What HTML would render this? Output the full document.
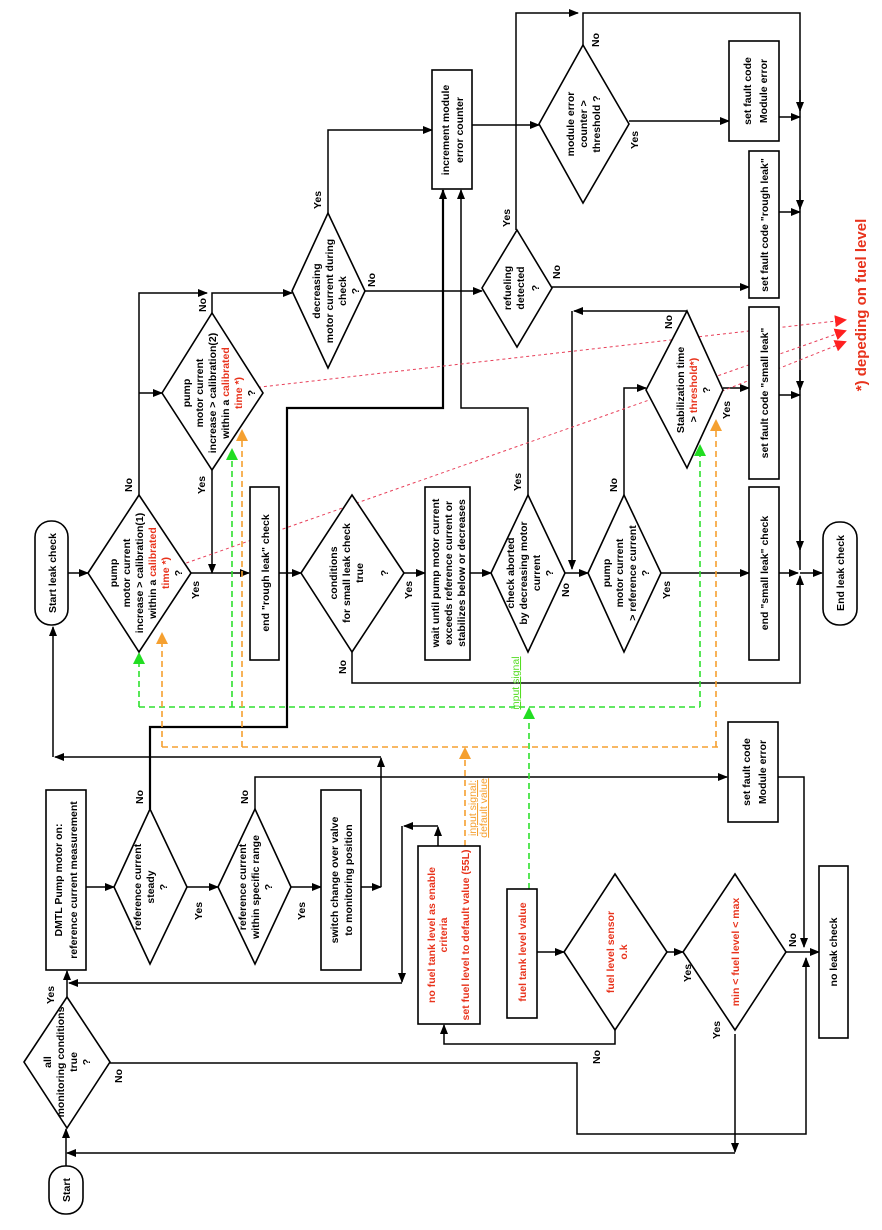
<!DOCTYPE html>
<html><head><meta charset="utf-8"><style>
html,body{margin:0;padding:0;background:#fff;}
svg{display:block;}
text{font-family:"Liberation Sans",Arial,sans-serif;font-weight:bold;font-size:10.5px;fill:#000;}
.r{fill:#e8331c;}
.s{fill:none;stroke:#000;stroke-width:1.5;}
.g{fill:none;stroke:#2ee02e;stroke-width:1.6;stroke-dasharray:6,4;}
.o{fill:none;stroke:#f5a030;stroke-width:1.6;stroke-dasharray:6,4;}
.d{fill:none;stroke:#e8405a;stroke-width:1;stroke-dasharray:3,3;}
.n{fill:#fff;stroke:#000;stroke-width:1.6;}
</style></head><body>
<svg width="882" height="1230" viewBox="0 0 882 1230" xmlns="http://www.w3.org/2000/svg">
<defs>
<marker id="a" markerWidth="10" markerHeight="10" refX="9" refY="5" orient="auto" markerUnits="userSpaceOnUse"><path d="M0,1 L10,5 L0,9 z" fill="#000"/></marker>
<marker id="ag" markerWidth="12" markerHeight="12" refX="10" refY="6" orient="auto" markerUnits="userSpaceOnUse"><path d="M0,0 L12,6 L0,12 z" fill="#22dd22"/></marker>
<marker id="ao" markerWidth="12" markerHeight="12" refX="10" refY="6" orient="auto" markerUnits="userSpaceOnUse"><path d="M0,0 L12,6 L0,12 z" fill="#f5a030"/></marker>
<marker id="ar" markerWidth="12" markerHeight="12" refX="10" refY="6" orient="auto" markerUnits="userSpaceOnUse"><path d="M0,0 L12,6 L0,12 z" fill="#ff2020"/></marker>
</defs>

<path class="s" d="M66,1166 V1129" marker-end="url(#a)"/>
<path class="s" d="M735,1153 H67" marker-end="url(#a)"/>
<path class="s" d="M67,997 V971" marker-end="url(#a)"/>
<path class="s" d="M110,1063 H577 V1134 H806 V958" marker-end="url(#a)"/>
<path class="s" d="M86,887 H114" marker-end="url(#a)"/>
<path class="s" d="M187,887 H218" marker-end="url(#a)"/>
<path class="s" d="M291,887 H321" marker-end="url(#a)"/>
<path class="s" d="M361,887 H381" marker-end="url(#a)"/>
<path class="s" d="M381,887 V758" marker-end="url(#a)"/>
<path class="s" d="M381,757 H55" marker-end="url(#a)"/>
<path class="s" d="M53,757 V627" marker-end="url(#a)"/>
<path class="s" style="stroke-width:2.2" d="M150,809 V727 H287 V408 H443 V190" marker-end="url(#a)"/>
<path class="s" d="M255,809 V777 H727" marker-end="url(#a)"/>
<path class="s" d="M778,777 H804 V947" marker-end="url(#a)"/>
<path class="s" d="M438,846 V827" marker-end="url(#a)"/>
<path class="s" d="M438,826 H404" marker-end="url(#a)"/>
<path class="s" d="M402,826 V982" marker-end="url(#a)"/>
<path class="s" d="M402,983 H69" marker-end="url(#a)"/>
<path class="s" d="M537,952 H564" marker-end="url(#a)"/>
<path class="s" d="M667,952 H683" marker-end="url(#a)"/>
<path class="s" d="M786,952 H819" marker-end="url(#a)"/>
<path class="s" d="M615,1030 V1044 H444 V1025" marker-end="url(#a)"/>
<path class="s" d="M735,1034 V1152" marker-end="url(#a)"/>

<path class="s" d="M68,573 H88" marker-end="url(#a)"/>
<path class="s" d="M191,573 H249" marker-end="url(#a)"/>
<path class="s" d="M212,470 V573" marker-end="url(#a)"/>
<path class="s" d="M139,495 V293 H207" marker-end="url(#a)"/>
<path class="s" d="M139,393 H162" marker-end="url(#a)"/>
<path class="s" d="M212,313 V293 H292" marker-end="url(#a)"/>
<path class="s" d="M328,213 V130 H432" marker-end="url(#a)"/>
<path class="s" d="M365,291 H482" marker-end="url(#a)"/>
<path class="s" d="M516,230 V13 H578" marker-end="url(#a)"/>
<path class="s" d="M552,287 H749" marker-end="url(#a)"/>
<path class="s" d="M472,125 H539" marker-end="url(#a)"/>
<path class="s" d="M629,121 H729" marker-end="url(#a)"/>
<path class="s" d="M583,45 V13 H800 V570"/>
<path class="s" d="M800,90 V111" marker-end="url(#a)"/>
<path class="s" d="M800,190 V209" marker-end="url(#a)"/>
<path class="s" d="M800,370 V390" marker-end="url(#a)"/>
<path class="s" d="M800,530 V550" marker-end="url(#a)"/>
<path class="s" d="M779,117 H800" marker-end="url(#a)"/>
<path class="s" d="M779,212 H800" marker-end="url(#a)"/>
<path class="s" d="M779,395 H800" marker-end="url(#a)"/>
<path class="s" d="M779,573 H798" marker-end="url(#a)"/>
<path class="s" d="M800,573 H822" marker-end="url(#a)"/>
<path class="s" d="M352,652 V683 H800 V576" marker-end="url(#a)"/>
<path class="s" d="M279,573 H301" marker-end="url(#a)"/>
<path class="s" d="M404,573 H425" marker-end="url(#a)"/>
<path class="s" d="M470,573 H491" marker-end="url(#a)"/>
<path class="s" d="M565,573 H588" marker-end="url(#a)"/>
<path class="s" d="M687,311 H574" marker-end="url(#a)"/>
<path class="s" d="M572,311 V569" marker-end="url(#a)"/>
<path class="s" d="M528,495 V408 H461 V190" marker-end="url(#a)"/>
<path class="s" d="M661,573 H749" marker-end="url(#a)"/>
<path class="s" d="M624,495 V388 H646" marker-end="url(#a)"/>
<path class="s" d="M723,388 H749" marker-end="url(#a)"/>

<path class="g" d="M139,707 H700"/>
<path class="g" d="M139,707 V654" marker-end="url(#ag)"/>
<path class="g" d="M232,707 V450" marker-end="url(#ag)"/>
<path class="g" d="M700,707 V446" marker-end="url(#ag)"/>
<path class="g" d="M529,889 V709" marker-end="url(#ag)"/>
<path class="o" d="M162,747 H718"/>
<path class="o" d="M162,747 V634" marker-end="url(#ao)"/>
<path class="o" d="M242,747 V431" marker-end="url(#ao)"/>
<path class="o" d="M716,747 V421" marker-end="url(#ao)"/>
<path class="o" d="M465,846 V749" marker-end="url(#ao)"/>
<path class="d" d="M252,388 L845,320" marker-end="url(#ar)"/>
<path class="d" d="M175,567 L845,331" marker-end="url(#ar)"/>
<path class="d" d="M705,398 L845,342" marker-end="url(#ar)"/>

<rect class="n" x="49" y="1166" width="34" height="48" rx="16"/>
<polygon class="n" points="24,1062 67,997 110,1062 67,1128"/>
<rect class="n" x="46" y="790" width="40" height="180"/>
<polygon class="n" points="114,887 150,809 187,887 150,964"/>
<polygon class="n" points="218,887 255,809 291,887 255,964"/>
<rect class="n" x="321" y="790" width="40" height="180"/>
<rect class="n" x="418" y="846" width="62" height="178"/>
<rect class="n" x="507" y="889" width="30" height="129"/>
<polygon class="n" points="564,952 615,874 667,952 615,1030"/>
<polygon class="n" points="683,952 735,874 786,952 735,1030"/>
<rect class="n" x="819" y="866" width="29" height="172"/>
<rect class="n" x="728" y="722" width="50" height="100"/>

<rect class="n" x="35" y="521" width="33" height="104" rx="16"/>
<polygon class="n" points="88,573 139,495 191,573 139,652"/>
<polygon class="n" points="162,393 212,313 263,393 212,470"/>
<polygon class="n" points="292,291 328,213 365,291 328,368"/>
<rect class="n" x="432" y="70" width="40" height="119"/>
<polygon class="n" points="482,288 517,230 552,288 517,347"/>
<polygon class="n" points="539,124 583,45 629,124 583,203"/>
<rect class="n" x="729" y="41" width="50" height="100"/>
<rect class="n" x="749" y="151" width="30" height="147"/>
<rect class="n" x="749" y="307" width="30" height="172"/>
<rect class="n" x="749" y="487" width="30" height="173"/>
<rect class="n" x="823" y="522" width="34" height="103" rx="16"/>
<rect class="n" x="250" y="487" width="29" height="173"/>
<polygon class="n" points="301,573 352,495 404,573 352,652"/>
<rect class="n" x="425" y="487" width="45" height="173"/>
<polygon class="n" points="491,573 528,495 565,573 528,652"/>
<polygon class="n" points="588,573 624,495 661,573 624,652"/>
<polygon class="n" points="646,390 687,311 723,390 687,468"/>

<g text-anchor="middle">
<text transform="translate(70,1190) rotate(-90)">Start</text>
<text transform="translate(56,573) rotate(-90)">Start leak check</text>
<text transform="translate(67,1062) rotate(-90)"><tspan x="0" y="-16">all</tspan><tspan x="0" y="-3">monitoring conditions</tspan><tspan x="0" y="10">true</tspan><tspan x="0" y="23">?</tspan></text>
<text transform="translate(66,880) rotate(-90)"><tspan x="0" y="-4">DMTL Pump motor on:</tspan><tspan x="0" y="11">reference current measurement</tspan></text>
<text transform="translate(150,887) rotate(-90)"><tspan x="0" y="-9">reference current</tspan><tspan x="0" y="4">steady</tspan><tspan x="0" y="17">?</tspan></text>
<text transform="translate(255,887) rotate(-90)"><tspan x="0" y="-9">reference current</tspan><tspan x="0" y="4">within specific range</tspan><tspan x="0" y="17">?</tspan></text>
<text transform="translate(341,880) rotate(-90)"><tspan x="0" y="-3">switch change over valve</tspan><tspan x="0" y="11">to monitoring position</tspan></text>
<text class="r" transform="translate(449,935) rotate(-90)"><tspan x="0" y="-14">no fuel tank level as enable</tspan><tspan x="0" y="-2">criteria</tspan><tspan x="0" y="20">set fuel level to default value (55L)</tspan></text>
<text class="r" transform="translate(526,952) rotate(-90)">fuel tank level value</text>
<text class="r" transform="translate(615,952) rotate(-90)"><tspan x="0" y="-1">fuel level sensor</tspan><tspan x="0" y="12">o.k</tspan></text>
<text class="r" transform="translate(739,952) rotate(-90)">min &lt; fuel level &lt; max</text>
<text transform="translate(837,952) rotate(-90)">no leak check</text>
<text transform="translate(753,772) rotate(-90)"><tspan x="0" y="-3">set fault code</tspan><tspan x="0" y="13">Module error</tspan></text>

<text transform="translate(139,573) rotate(-90)"><tspan x="0" y="-22">pump</tspan><tspan x="0" y="-9">motor current</tspan><tspan x="0" y="4">increase &gt; calibration(1)</tspan><tspan x="0" y="17">within a <tspan class="r">calibrated</tspan></tspan><tspan class="r" x="0" y="30">time *)</tspan><tspan x="0" y="43">?</tspan></text>
<text transform="translate(212,393) rotate(-90)"><tspan x="0" y="-22">pump</tspan><tspan x="0" y="-9">motor current</tspan><tspan x="0" y="4">increase &gt; calibration(2)</tspan><tspan x="0" y="17">within a <tspan class="r">calibrated</tspan></tspan><tspan class="r" x="0" y="30">time *)</tspan><tspan x="0" y="43">?</tspan></text>
<text transform="translate(328,291) rotate(-90)"><tspan x="0" y="-8">decreasing</tspan><tspan x="0" y="5">motor current during</tspan><tspan x="0" y="18">check</tspan><tspan x="0" y="31">?</tspan></text>
<text transform="translate(452,130) rotate(-90)"><tspan x="0" y="-3">increment module</tspan><tspan x="0" y="11">error counter</tspan></text>
<text transform="translate(517,288) rotate(-90)"><tspan x="0" y="-6">refueling</tspan><tspan x="0" y="7">detected</tspan><tspan x="0" y="22">?</tspan></text>
<text transform="translate(583,124) rotate(-90)"><tspan x="0" y="-9">module error</tspan><tspan x="0" y="4">counter &gt;</tspan><tspan x="0" y="17">threshold ?</tspan></text>
<text transform="translate(754,91) rotate(-90)"><tspan x="0" y="-3">set fault code</tspan><tspan x="0" y="13">Module error</tspan></text>
<text transform="translate(768,225) rotate(-90)">set fault code "rough leak"</text>
<text transform="translate(768,393) rotate(-90)">set fault code "small leak"</text>
<text transform="translate(768,573) rotate(-90)">end "small leak" check</text>
<text transform="translate(269,573) rotate(-90)">end "rough leak" check</text>
<text transform="translate(352,573) rotate(-90)"><tspan x="0" y="-15">conditions</tspan><tspan x="0" y="-2">for small leak check</tspan><tspan x="0" y="11">true</tspan><tspan x="0" y="36">?</tspan></text>
<text transform="translate(448,573) rotate(-90)"><tspan x="0" y="-9">wait until pump motor current</tspan><tspan x="0" y="4">exceeds reference current or</tspan><tspan x="0" y="17">stabilizes below or decreases</tspan></text>
<text transform="translate(528,573) rotate(-90)"><tspan x="0" y="-14">check aborted</tspan><tspan x="0" y="-1">by decreasing motor</tspan><tspan x="0" y="12">current</tspan><tspan x="0" y="25">?</tspan></text>
<text transform="translate(624,573) rotate(-90)"><tspan x="0" y="-14">pump</tspan><tspan x="0" y="-1">motor current</tspan><tspan x="0" y="12">&gt; reference current</tspan><tspan x="0" y="25">?</tspan></text>
<text transform="translate(687,390) rotate(-90)"><tspan x="0" y="-3">Stabilization time</tspan><tspan x="0" y="10">&gt; <tspan class="r">threshold*)</tspan></tspan><tspan x="0" y="23">?</tspan></text>
<text transform="translate(844,573) rotate(-90)">End leak check</text>

<text class="r" style="font-size:15px" transform="translate(866,305) rotate(-90)">*) depeding on fuel level</text>
<text style="fill:#55dd22;font-weight:normal;text-decoration:underline" transform="translate(519,683) rotate(-90)">input signal</text>
<text style="fill:#f5a030;font-weight:normal;text-decoration:underline" transform="translate(476,808) rotate(-90)"><tspan x="0" y="0">input signal:</tspan><tspan x="0" y="11">default value</tspan></text>

<text transform="translate(54,995) rotate(-90)">Yes</text>
<text transform="translate(122,1076) rotate(-90)">No</text>
<text transform="translate(143,797) rotate(-90)">No</text>
<text transform="translate(202,911) rotate(-90)">Yes</text>
<text transform="translate(248,797) rotate(-90)">No</text>
<text transform="translate(305,911) rotate(-90)">Yes</text>
<text transform="translate(600,1057) rotate(-90)">No</text>
<text transform="translate(691,973) rotate(-90)">Yes</text>
<text transform="translate(720,1030) rotate(-90)">Yes</text>
<text transform="translate(796,940) rotate(-90)">No</text>
<text transform="translate(132,485) rotate(-90)">No</text>
<text transform="translate(199,590) rotate(-90)">Yes</text>
<text transform="translate(205,485) rotate(-90)">Yes</text>
<text transform="translate(206,305) rotate(-90)">No</text>
<text transform="translate(321,200) rotate(-90)">Yes</text>
<text transform="translate(375,280) rotate(-90)">No</text>
<text transform="translate(510,218) rotate(-90)">Yes</text>
<text transform="translate(560,272) rotate(-90)">No</text>
<text transform="translate(599,40) rotate(-90)">No</text>
<text transform="translate(638,140) rotate(-90)">Yes</text>
<text transform="translate(346,667) rotate(-90)">No</text>
<text transform="translate(412,590) rotate(-90)">Yes</text>
<text transform="translate(521,482) rotate(-90)">Yes</text>
<text transform="translate(569,590) rotate(-90)">No</text>
<text transform="translate(617,485) rotate(-90)">No</text>
<text transform="translate(670,590) rotate(-90)">Yes</text>
<text transform="translate(672,322) rotate(-90)">No</text>
<text transform="translate(730,410) rotate(-90)">Yes</text>
</g>
</svg>
</body></html>
